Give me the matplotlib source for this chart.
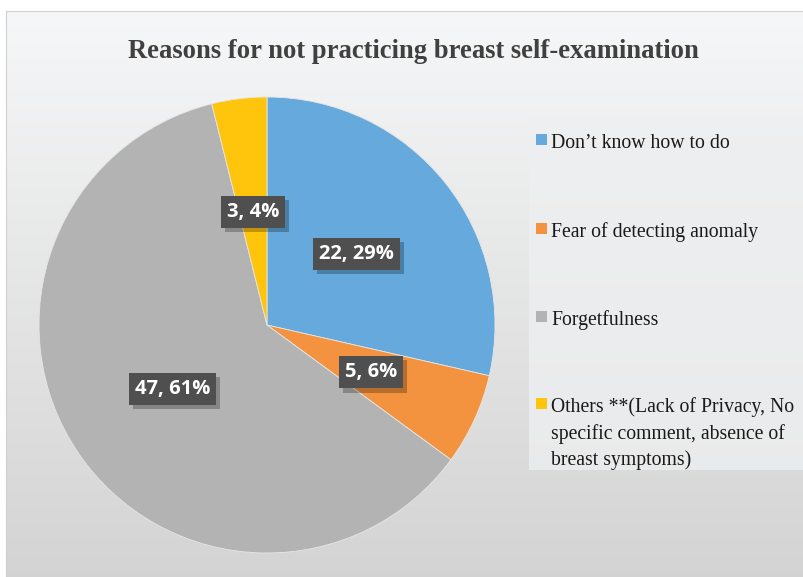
import numpy as np
import matplotlib.pyplot as plt
import matplotlib.patheffects as pe
from matplotlib.patches import Rectangle

# data
categories = ["Don\u2019t know how to do", "Fear of detecting anomaly", "Forgetfulness",
              "Others **(Lack of Privacy, No\nspecific comment, absence of\nbreast symptoms)"]
counts = [22, 5, 47, 3]
colors = ["#65A9DD", "#F3933F", "#B3B3B3", "#FFC40C"]
title = "Reasons for not practicing breast self-examination"

W, H = 804, 577
fig = plt.figure(figsize=(W / 100, H / 100), dpi=100)
fig.patch.set_facecolor("white")

# background panel with gradient
bg = fig.add_axes([6 / W, 0, 1 - 6 / W, 1 - 11 / H])
grad = np.linspace(0, 1, 256).reshape(-1, 1)
top_c = np.array([0.965, 0.968, 0.972])
bot_c = np.array([0.83, 0.83, 0.83])
img = top_c * (1 - grad[..., None]) + bot_c * grad[..., None]
img = np.repeat(img, 2, axis=1)
bg.imshow(img, aspect="auto", extent=[0, 1, 0, 1], origin="upper")
bg.set_xlim(0, 1)
bg.set_ylim(0, 1)
for s in bg.spines.values():
    s.set_color("#D0D0D0")
bg.set_xticks([])
bg.set_yticks([])

fig.text(413 / W, 1 - 51 / H, title, ha="center", va="center",
         fontsize=19.2, fontweight="bold", family="Liberation Serif", color="#404040")

# pie
cx, cy, r = 267, 325, 228
ax = fig.add_axes([(cx - r) / W, (H - cy - r) / H, 2 * r / W, 2 * r / H])
total = sum(counts)


def fmt(p):
    n = int(round(p * total / 100))
    return f"{n}, {p:.0f}%"


wedges, texts, autotexts = ax.pie(counts, colors=colors, startangle=90, counterclock=False,
                                  autopct=fmt, pctdistance=0.5, radius=1,
                                  wedgeprops=dict(edgecolor="#E6E6E6", linewidth=0.6))
for t in autotexts:
    t.set_color("white")
    t.set_fontsize(14.5)
    t.set_fontweight("bold")
    t.set_family("Open Sans")
    t.set_bbox(dict(boxstyle="square,pad=0.3", facecolor="#4F4F4F", edgecolor="none"))
    t.get_bbox_patch().set_path_effects([
        pe.SimplePatchShadow(offset=(3, -3), shadow_rgbFace="black", alpha=0.25),
        pe.Normal()])
ax.set_xlim(-1, 1)
ax.set_ylim(-1, 1)
ax.set_aspect("equal")
ax.axis("off")

# legend box
fig.patches.append(Rectangle((529 / W, 1 - 470 / H), (W - 529) / W, 353 / H,
                             transform=fig.transFigure, facecolor="#EEEFF0",
                             edgecolor="none", alpha=0.8, zorder=0.5))
ys = [139.5, 228, 316, 403]
for lab, col, y in zip(categories, colors, ys):
    fig.patches.append(Rectangle((536 / W, 1 - (y + 5.5) / H), 11 / W, 11 / H,
                                 transform=fig.transFigure, facecolor=col,
                                 edgecolor="none", zorder=3))
    fig.text(551 / W, 1 - (y - 6) / H, lab, ha="left", va="top", fontsize=14.2,
             family="Liberation Serif", color="#1A1A1A", linespacing=1.47)

fig.savefig("out.png", dpi=100)
